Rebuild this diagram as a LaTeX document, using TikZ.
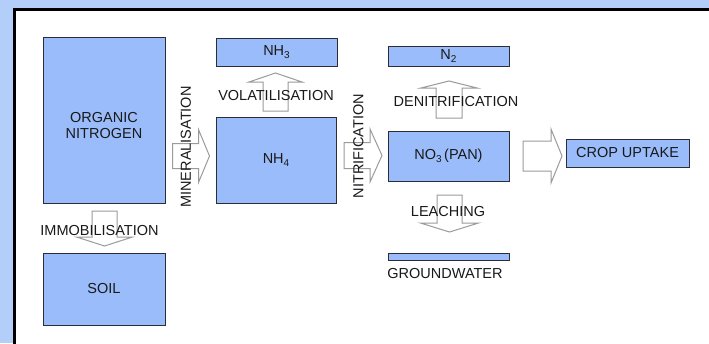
\documentclass[tikz,border=0pt]{standalone}
\usepackage{fontspec}
\setmainfont{Liberation Sans}
\definecolor{bgblue}{RGB}{180,206,250}
\definecolor{boxblue}{RGB}{155,188,250}
\definecolor{boxline}{RGB}{45,45,55}
\definecolor{arrgray}{RGB}{155,155,155}
\definecolor{txt}{RGB}{25,25,25}
\newcommand{\lowsub}[1]{\raisebox{-0.4ex}{\fontsize{10}{10}\selectfont #1}}
\tikzset{
  box/.style={draw=boxline, fill=boxblue, line width=1pt, inner sep=0pt, text=txt, font=\fontsize{14.5}{16}\selectfont},
  lbl/.style={inner sep=0pt, text=txt, font=\fontsize{14.5}{16}\selectfont, align=center},
  blockarr/.style={draw=arrgray, line width=1pt, line join=miter},
  pics/barrow/.style args={#1/#2/#3/#4}{code={
    \draw[blockarr] (0,-#3) -- ({#1-#2},-#3) -- ({#1-#2},-#4) -- (#1,0) -- ({#1-#2},#4) -- ({#1-#2},#3) -- (0,#3) -- cycle;}}
}
\begin{document}
\begin{tikzpicture}[x=1pt,y=-1pt]
\useasboundingbox (0,0) rectangle (709,343);
\fill[bgblue] (0,0) rectangle (709,343);
\begin{scope}
\clip (0,0) rectangle (709,343);
\filldraw[fill=white, draw=black, line width=3pt] (14,9.5) rectangle (740,370);
\end{scope}
% boxes
\node[box, minimum width=122, minimum height=166] (org) at (104,120.5) {};
\node[lbl] (orgtext) at (104,126) {ORGANIC\\NITROGEN};
\node[box, minimum width=122, minimum height=72] (soil) at (104,289) {SOIL};
\node[box, minimum width=121, minimum height=28] (nh3) at (276.5,52) {NH\lowsub{3}};
\node[box, minimum width=120, minimum height=86] (nh4) at (276,160) {NH\lowsub{4}};
\node[box, minimum width=121, minimum height=20] (n2) at (448.5,56) {N\lowsub{2}};
\node[box, minimum width=121, minimum height=50] (no3) at (448.5,156) {NO\lowsub{3}\,(PAN)};
\node[box, minimum width=123, minimum height=28] (crop) at (627.5,153) {CROP UPTAKE};
\node[box, minimum width=121, minimum height=7] (gw) at (448.5,256.5) {};
% block arrows
\pic at (172.5,156) {barrow={37/11/12.5/26.5}};
\pic at (344,155.5) {barrow={38/12/13/26.5}};
\pic at (523,156) {barrow={39/11/15/27}};
\pic[rotate=90] at (275.5,111) {barrow={38/9/12.5/26.5}};
\pic[rotate=90] at (449,118) {barrow={37/7/13/28}};
\pic[rotate=-90] at (104.5,211) {barrow={35/9/12.5/28}};
\pic[rotate=-90] at (449.5,195) {barrow={37/9/12.5/29}};
% labels
\node[lbl] (vol) at (276,96) {VOLATILISATION};
\node[lbl] (denit) at (456,102) {DENITRIFICATION};
\node[lbl] (immob) at (99.5,231) {IMMOBILISATION};
\node[lbl] (leach) at (448,212) {LEACHING};
\node[lbl] (gwtext) at (445,274) {GROUNDWATER};
\node[lbl, rotate=90] (miner) at (186,147) {MINERALISATION};
\node[lbl, rotate=90] (nitr) at (358.5,146) {NITRIFICATION};
\end{tikzpicture}
\end{document}
